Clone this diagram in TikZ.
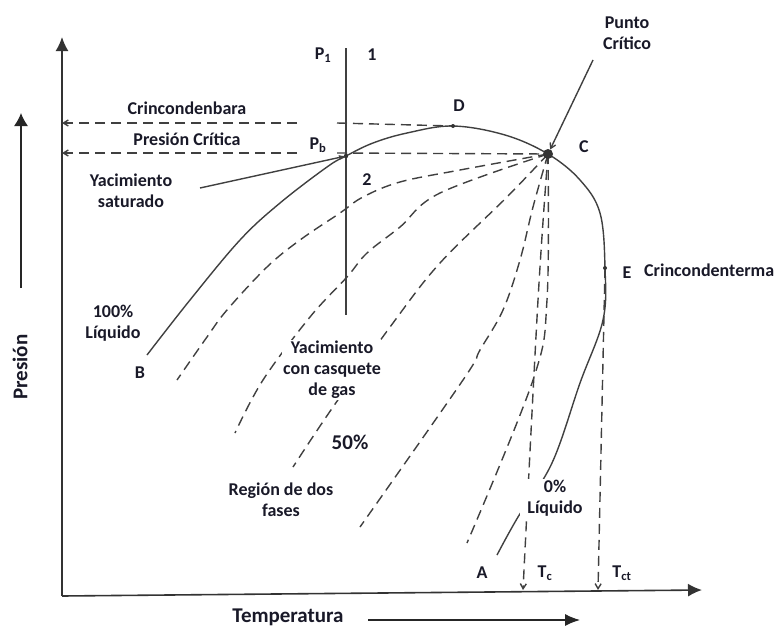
\documentclass[tikz,border=0pt]{standalone}
\usepackage{fontspec}
\setmainfont{Carlito}
\usetikzlibrary{arrows.meta}
\definecolor{tinta}{RGB}{25,25,40}
\begin{document}
\begin{tikzpicture}[x=1pt,y=-1pt,
	etiq/.style={font=\bfseries\fontsize{18}{21}\selectfont, text=tinta, align=center, inner sep=1pt},
	grande/.style={etiq, font=\bfseries\fontsize{21}{24}\selectfont},
	curva/.style={line width=1.4pt, black!75},
	raya/.style={curva, dash pattern=on 10pt off 6pt},
	eje/.style={line width=1.6pt, black!80, -{Latex[length=14pt,width=13pt]}},
	punta/.style={-{Straight Barb[length=5pt,width=6pt]}}]
	\useasboundingbox (0,0) rectangle (779,627);

	% puntos del diagrama
	\coordinate (O) at (62,596);
	\coordinate (ytop) at (62,37);
	\coordinate (xend) at (702,590);
	\coordinate (C) at (548,154);
	\coordinate (D) at (453,126);
	\coordinate (E) at (605,268);
	\coordinate (Pbp) at (346,156);
	\coordinate (P1top) at (346,48);
	\coordinate (P1bot) at (346,315);
	\coordinate (yCb) at (62,123);
	\coordinate (yPc) at (62,153);
	\coordinate (Cbcut) at (297,123);
	\coordinate (Cbres) at (337,123);
	\coordinate (Pccut) at (297,153);
	\coordinate (Pcres) at (337,153);
	\coordinate (Tcpt) at (523,590);
	\coordinate (Tctpt) at (598,590);

	% ejes
	\draw[eje] (O) -- (ytop);
	\draw[eje] (O) -- (xend);
	\draw[line width=1.2pt, black!85, -{Latex[length=13pt,width=14pt]}] (21,288) coordinate (pa) -- (21,113) coordinate (pb);
	\draw[line width=1.2pt, black!85, -{Latex[length=15pt,width=12pt]}] (368,620) coordinate (ta) -- (580,620) coordinate (tb);

	% linea P1
	\draw[curva] (P1top) -- (P1bot);

	% crincondenbara y presion critica
	\draw[raya, punta] (Cbcut) -- (yCb);
	\draw[raya] (Cbres) -- (D);
	\draw[raya, punta] (Pccut) -- (yPc);
	\draw[raya] (Pcres) -- (C);

	% envolvente de fases
	\draw[curva] plot[smooth, tension=0.6] coordinates {(147,355) (190,300) (240,240) (280,203) (327,167) (Pbp) (373,143) (407,133) (D) (505,135) (C) (580,180) (600,213) (E) (603,320) (580,383) (552,463) (518,517) (497,555)};

	% lineas de calidad
	\draw[raya] plot[smooth, tension=0.6] coordinates {(C) (460,170) (400,182) (363,197) (340,213) (300,240) (267,267) (227,310) (207,337) (177,380)};
	\draw[raya] plot[smooth, tension=0.6] coordinates {(C) (440,193) (400,227) (367,253) (347,277) (310,317) (263,380) (235,433)};
	\draw[raya] plot[smooth, tension=0.6] coordinates {(C) (507,197) (440,263) (393,323) (333,407) (293,467)};
	\draw[raya] plot[smooth, tension=0.6] coordinates {(C) (533,207) (520,260) (503,310) (480,350) (463,380) (360,527)};
	\draw[raya] plot[smooth, tension=0.6] coordinates {(C) (547,300) (533,380) (467,543)};
	\draw[raya, punta] plot[smooth, tension=0.6] coordinates {(C) (538,300) (Tcpt)};
	\draw[raya, punta] (E) -- (Tctpt);

	% puntos
	\fill[black!80] (C) circle (5);
	\fill[black!80] (D) circle (2);
	\fill[black!80] (E) circle (2);
	\fill[black!80] (Pbp) circle (2.2);

	% etiquetas
	\node[etiq] (puntoC) at (627,33) {Punto\\Crítico};
	\node[etiq] (letraC) at (584,147) {C};
	\node[etiq] (letraD) at (459,106) {D};
	\node[etiq] (letraE) at (627,273) {E};
	\node[etiq, anchor=west] (crinT) at (643,270) {Crincondenterma};
	\node[etiq] (cien) at (113,323) {100\%\\Líquido};
	\node[etiq] (letraB) at (140,373) {B};
	\node[etiq, fill=white] (casquete) at (332,370) {Yacimiento\\con casquete\\de gas};
	\node[grande] (cincuenta) at (350,442) {50\%};
	\node[etiq] (region) at (281,500) {Región de dos\\fases};
	\node[etiq, fill=white, minimum width=70pt] (cero) at (555,498) {0\%\\Líquido};
	\node[etiq] (letraA) at (482,573) {A};
	\node[etiq] (Tc) at (545,573) {T\textsubscript{c}};
	\node[etiq] (Tct) at (622,573) {T\textsubscript{ct}};
	\node[etiq] (P1) at (323,55) {P\textsubscript{1}};
	\node[etiq] (uno) at (372,55) {1};
	\node[etiq] (Pb) at (318,145) {P\textsubscript{b}};
	\node[etiq] (dos) at (367,180) {2};
	\node[etiq] (crinB) at (187,108) {Crincondenbara};
	\node[etiq] (pcrit) at (187,139) {Presión Crítica};
	\node[etiq] (satur) at (131,191) {Yacimiento\\saturado};
	\node[grande, rotate=90] (pres) at (20,367) {Presión};
	\node[grande] (temp) at (288,617) {Temperatura};

	% flechas de las etiquetas
	\draw[curva, -{Latex[length=7pt,width=5pt]}] (200,188) -- (Pbp);
	\draw[curva, punta, shorten >=5pt] (593,60) -- (C);
\end{tikzpicture}
\end{document}
